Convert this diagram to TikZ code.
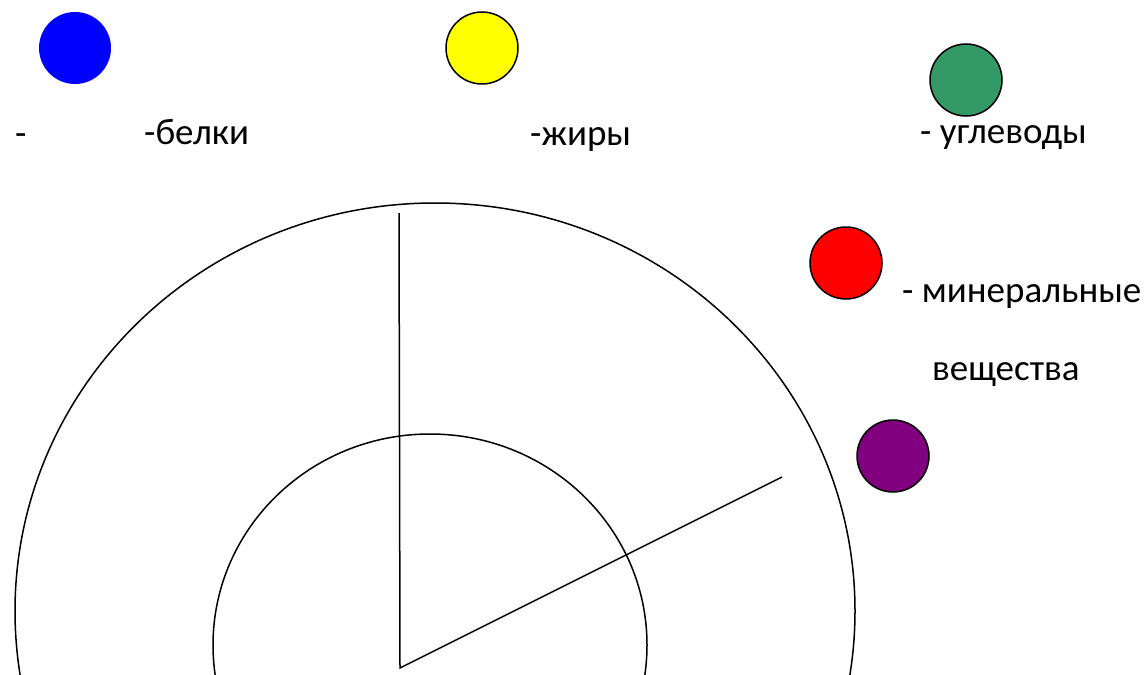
\documentclass[tikz,border=0pt]{standalone}
\usepackage{fontspec}
\setmainfont{Carlito}
\usetikzlibrary{positioning}
\definecolor{dotBlue}{HTML}{0000FF}
\definecolor{dotYellow}{HTML}{FFFF00}
\definecolor{dotGreen}{HTML}{339966}
\definecolor{dotRed}{HTML}{FF0000}
\definecolor{dotPurple}{HTML}{800080}

\begin{document}
\begin{tikzpicture}[x=1pt,y=-1pt,
  dot/.style={circle,draw=black,line width=1.5pt,minimum size=72pt,inner sep=0pt},
  lbl/.style={anchor=base west,inner sep=0pt,font=\fontsize{37}{44}\selectfont},
  ring/.style={draw=black,line width=1.5pt}
]
  \useasboundingbox (0,0) rectangle (1147,674);
  \clip (0,0) rectangle (1147,674);
  % legend
  \node[dot,draw=none,fill=dotBlue] (protein) at (75,48) {};
  \node[dot,fill=dotYellow] (fat) at (482,48) {};
  \node[dot,fill=dotGreen] (carb) at (966,80) {};
  \node[dot,fill=dotRed] (mineral) at (846,263) {};
  \node[dot,fill=dotPurple] (extra) at (893,456) {};
  \node[lbl] (dash) at (15,145) {-};
  \node[lbl] (proteinTxt) at (144,144) {-белки};
  \node[lbl] (fatTxt) at (530,145) {-жиры};
  \node[lbl] (carbTxt) at (920,143) {- углеводы};
  \node[lbl] (mineralTxt) at (902,302) {- минеральные};
  \node[lbl] (mineralTxt2) at (932,380) {вещества};
  % chart
  \draw[ring] (435,611) ellipse [x radius=420,y radius=408];
  \draw[ring] (430,645) ellipse [x radius=217,y radius=211];
  \coordinate (hub) at (400,668);
  \coordinate (top) at (399,213);
  \coordinate (rim) at (782,477);
  \draw[ring] (top) -- (hub) -- (rim);
\end{tikzpicture}
\end{document}
